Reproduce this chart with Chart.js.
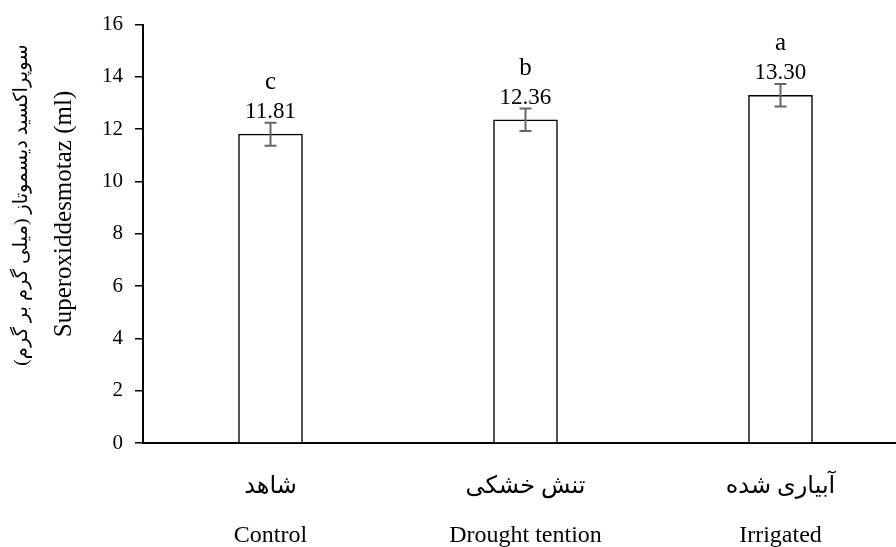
<!DOCTYPE html>
<html>
<head>
<meta charset="utf-8">
<script src="https://cdn.jsdelivr.net/npm/chart.js@4.4.1/dist/chart.umd.min.js"></script>
<style>
  html, body { margin: 0; padding: 0; background: #fff; }
  #wrap { width: 896px; height: 547px; position: relative; }
</style>
</head>
<body>
<div id="wrap"><canvas id="chart"></canvas></div>
<script>
// Data
const categoriesFa = ['شاهد', 'تنش خشکی', 'آبیاری شده'];
const categoriesEn = ['Control', 'Drought tention', 'Irrigated'];
const values = [11.81, 12.36, 13.30];
const errors = [0.44, 0.43, 0.43];
const letters = ['c', 'b', 'a'];
const yTicks = [0, 2, 4, 6, 8, 10, 12, 14, 16];
const titleFa = 'سوپراکسید دیسموتاز (میلی گرم بر گرم)';
const titleEn = 'Superoxiddesmotaz (ml)';

const serif = '"Liberation Serif", "Times New Roman", "DejaVu Sans", serif';

// Error bars, value labels and letters above each bar
const barLabels = {
    id: 'barLabels',
    afterDatasetsDraw(chart) {
        const ctx = chart.ctx;
        const y = chart.scales.y;
        const meta = chart.getDatasetMeta(0);
        ctx.save();
        meta.data.forEach((bar, i) => {
            const x = bar.x;
            const top = y.getPixelForValue(values[i] + errors[i]);
            const bottom = y.getPixelForValue(values[i] - errors[i]);

            // Error bar
            ctx.strokeStyle = '#666666';
            ctx.lineWidth = 2;
            ctx.beginPath();
            ctx.moveTo(x, top);
            ctx.lineTo(x, bottom);
            ctx.moveTo(x - 6, top);
            ctx.lineTo(x + 6, top);
            ctx.moveTo(x - 6, bottom);
            ctx.lineTo(x + 6, bottom);
            ctx.stroke();

            // Value and letter
            ctx.fillStyle = '#000';
            ctx.textAlign = 'center';
            ctx.textBaseline = 'alphabetic';
            ctx.font = '23px ' + serif;
            ctx.fillText(values[i].toFixed(2), x, top - 5);
            ctx.font = '25px ' + serif;
            ctx.fillText(letters[i], x, top - 34);
        });
        ctx.restore();
    }
};

// Two-line rotated y axis title (Persian + English)
const yTitle = {
    id: 'yTitle',
    afterDraw(chart) {
        const ctx = chart.ctx;
        ctx.save();
        ctx.fillStyle = '#000';
        ctx.textAlign = 'center';
        ctx.textBaseline = 'middle';

        ctx.save();
        ctx.translate(22, 205);
        ctx.rotate(-Math.PI / 2);
        ctx.direction = 'rtl';
        ctx.font = '19.5px ' + serif;
        ctx.fillText(titleFa, 0, 0);
        ctx.restore();

        ctx.save();
        ctx.translate(64, 214);
        ctx.rotate(-Math.PI / 2);
        ctx.font = '25px ' + serif;
        ctx.fillText(titleEn, 0, 0);
        ctx.restore();

        ctx.restore();
    }
};

new Chart(document.getElementById('chart'), {
    type: 'bar',
    data: {
        datasets: [
            {
                data: values.map((v, i) => ({x: i, y: v})),
                backgroundColor: '#ffffff',
                borderColor: '#000000',
                borderWidth: 1.5,
                barThickness: 64
            }
        ]
    },
    options: {
        responsive: true,
        maintainAspectRatio: false,
        animation: false,
        layout: {
            padding: {top: 22, right: 0, bottom: 0, left: 0}
        },

        //Scales
        scales: {
            x: {
                type: 'linear',
                min: -0.5,
                max: 2.453,
                offset: false,
                grid: {display: false, drawTicks: false, offset: false},
                border: {display: true, color: '#000', width: 2},
                afterBuildTicks: (scale) => {
                    scale.ticks = categoriesEn.map((c, i) => ({value: i}));
                },
                afterFit: (scale) => { scale.height = 104; },
                ticks: {
                    autoSkip: false,
                    maxRotation: 0,
                    padding: 19,
                    color: '#000',
                    font: {family: serif, size: 24, lineHeight: 2.04},
                    callback: (value) => [categoriesFa[value], categoriesEn[value]]
                }
            },
            y: {
                min: 0,
                max: 16,
                afterBuildTicks: (scale) => {
                    scale.ticks = yTicks.map(v => ({value: v}));
                },
                afterFit: (scale) => { scale.width = 143; },
                grid: {
                    drawOnChartArea: false,
                    drawTicks: true,
                    tickLength: 8,
                    color: '#000',
                    lineWidth: 1.5
                },
                border: {display: true, color: '#000', width: 2},
                ticks: {
                    padding: 12,
                    color: '#000',
                    font: {family: serif, size: 21}
                }
            }
        },

        plugins: {
            legend: false,
            tooltip: {enabled: false}
        }
    },
    plugins: [barLabels, yTitle]
});
</script>
</body>
</html>
